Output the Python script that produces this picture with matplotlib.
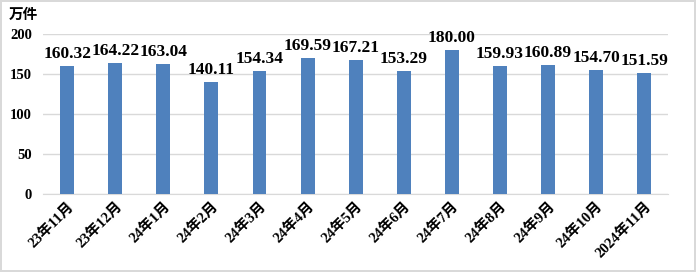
import matplotlib
matplotlib.use("Agg")
import matplotlib.pyplot as plt

plt.rcParams["font.family"] = ["Liberation Serif", "Noto Sans CJK SC"]
plt.rcParams["font.weight"] = "bold"

months = ["23年11月", "23年12月", "24年1月", "24年2月", "24年3月", "24年4月", "24年5月",
          "24年6月", "24年7月", "24年8月", "24年9月", "24年10月", "2024年11月"]
values = [160.32, 164.22, 163.04, 140.11, 154.34, 169.59, 167.21,
          153.29, 180.00, 159.93, 160.89, 154.70, 151.59]

fig = plt.figure(figsize=(6.96, 2.72), dpi=100)
fig.patch.set_edgecolor("#D9D9D9")
fig.patch.set_linewidth(1.5)
ax = fig.add_axes([0.062, 0.287, 0.898, 0.588])

x = range(len(months))
ax.bar(x, values, width=0.29, color="#4F81BD", zorder=3)
for xi, v in zip(x, values):
    ax.text(xi, v + 5, f"{v:.2f}", ha="center", va="bottom", fontsize=12.5,
            fontweight="bold", clip_on=False)

ax.set_xlim(-0.5, len(months) - 0.5)
ax.set_ylim(0, 200)
ax.set_yticks(range(0, 201, 50))
ax.grid(axis="y", color="#D9D9D9", linewidth=1, zorder=0)
for s in ["top", "right", "left"]:
    ax.spines[s].set_visible(False)
ax.spines["bottom"].set_color("#D9D9D9")
ax.tick_params(length=0)
ax.tick_params(axis="y", labelsize=10.5, pad=8)
ax.set_xticks(list(x))
ax.set_xticklabels(months, rotation=45, ha="right", rotation_mode="anchor", fontsize=10.5)
ax.tick_params(axis="x", pad=4)

fig.text(0.012, 0.945, "万件", fontsize=10.5, fontweight="bold", va="center", ha="left")

fig.savefig("out.png", dpi=100)
